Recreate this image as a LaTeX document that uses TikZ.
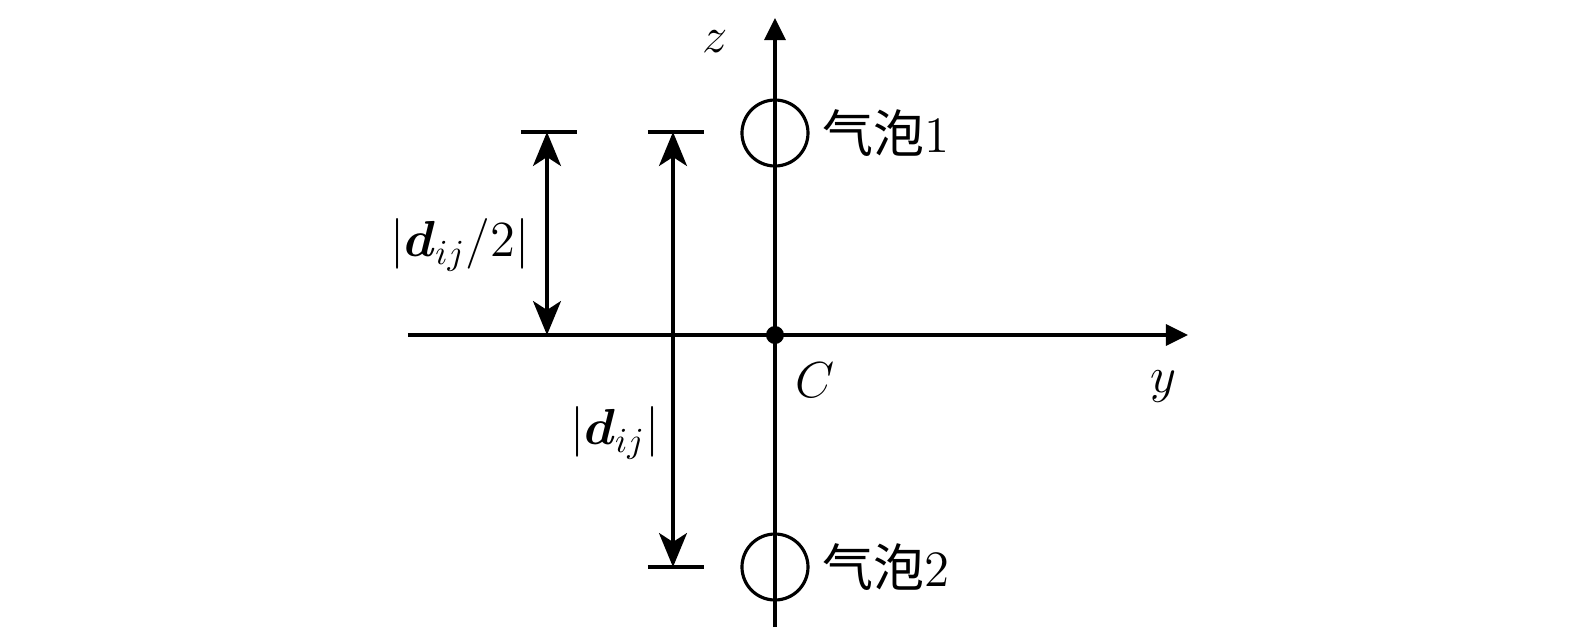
\documentclass[tikz,border=0pt]{standalone}
\usepackage{amsmath,bm}
\usepackage{fontspec}
\newfontfamily\cjk{Noto Sans CJK SC}
\usetikzlibrary{arrows.meta,positioning}

\begin{document}
\begin{tikzpicture}[line width=0.9pt,
  axis/.style={-{Triangle[length=0.22cm,width=0.21cm]}},
  dim/.style={{Stealth[length=0.34cm,width=0.28cm,inset=0.09cm]}-{Stealth[length=0.34cm,width=0.28cm,inset=0.09cm]}},
  bubble/.style={draw,circle,minimum size=0.66cm,inner sep=0pt},
  lab/.style={font=\fontsize{14.5}{17}\selectfont}]
\useasboundingbox (-7.75,-3.05) rectangle (8,3.35);
% axes
\coordinate (C) at (0,0);
\coordinate (ys) at (-3.67,0);
\coordinate (ye) at (4.13,0);
\coordinate (zs) at (0,-2.92);
\coordinate (ze) at (0,3.17);
\draw[axis] (ys) -- (ye);
\draw[axis] (zs) -- (ze);
\fill (C) circle (0.09);
\node[lab,anchor=base] (ylab) at (3.88,-0.57) {$y$};
\node[lab,anchor=base] (zlab) at (-0.60,2.83) {$z$};
\node[lab,anchor=base] (Clab) at (0.40,-0.62) {$C$};
% bubbles
\node[bubble] (b1) at (0,2.02) {};
\node[bubble] (b2) at (0,-2.32) {};
\node[lab,inner sep=1pt,right=0.08cm of b1] (l1) {{\cjk 气泡}1};
\node[lab,inner sep=1pt,right=0.08cm of b2] (l2) {{\cjk 气泡}2};
% ticks
\coordinate (t1l) at (-2.54,2.03);
\coordinate (t1r) at (-1.98,2.03);
\coordinate (t2l) at (-1.27,2.03);
\coordinate (t2r) at (-0.71,2.03);
\coordinate (t3l) at (-1.27,-2.32);
\coordinate (t3r) at (-0.71,-2.32);
\draw (t1l) -- (t1r);
\draw (t2l) -- (t2r);
\draw (t3l) -- (t3r);
% dimensions
\coordinate (d1a) at (-2.28,2.03);
\coordinate (d1b) at (-2.28,0);
\coordinate (d2a) at (-1.02,2.03);
\coordinate (d2b) at (-1.02,-2.32);
\draw[dim] (d1a) -- (d1b);
\draw[dim] (d2a) -- (d2b);
\node[lab] (half) at (-3.15,0.90) {$|\bm{d}_{ij}/2|$};
\node[lab] (full) at (-1.60,-0.98) {$|\bm{d}_{ij}|$};
\end{tikzpicture}
\end{document}
